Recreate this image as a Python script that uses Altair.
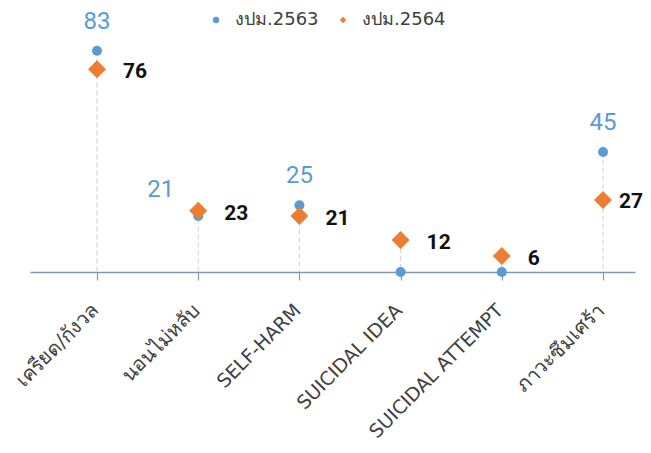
import altair as alt
import pandas as pd

categories = ["เครียด/กังวล", "นอนไม่หลับ", "SELF-HARM", "SUICIDAL IDEA", "SUICIDAL ATTEMPT", "ภาวะซึมเศร้า"]
series_names = ["งปม.2563", "งปม.2564"]
v2563 = [83, 21, 25, 0, 0, 45]
v2564 = [76, 23, 21, 12, 6, 27]
left_label_cats = ["นอนไม่หลับ"]
tight_right_cats = ["ภาวะซึมเศร้า"]

BLUE = "#5b9bd5"
ORANGE = "#ed7d31"
AXIS = "#8497b0"

rows = []
for c, a, b in zip(categories, v2563, v2564):
    rows.append({"cat": c, "series": series_names[0], "value": a})
    rows.append({"cat": c, "series": series_names[1], "value": b})
df = pd.DataFrame(rows)

drop = pd.DataFrame({
    "cat": categories,
    "top": [max(a, b) for a, b in zip(v2563, v2564)],
    "zero": [0] * len(categories),
})

W, H = 605, 240
xenc = alt.X(
    "cat:N", sort=categories,
    scale=alt.Scale(type="point", padding=0.489, align=0.677),
    axis=alt.Axis(
        title=None, grid=False, domainColor=AXIS, domainWidth=1.5,
        tickColor=AXIS, tickSize=8, tickWidth=1.2,
        labelAngle=-45, labelAlign="right", labelBaseline="middle",
        labelFontSize={"condition": {"test": "test(/[\u0e00-\u0e7f]/, datum.label)", "value": 20},
                       "value": 19},
        labelColor="#404040", labelPadding=27, labelOffset=-2, labelLimit=400,
        labelFont="DejaVu Sans",
    ),
)
yscale = alt.Scale(domain=[0, 90], nice=False, zero=True)
yenc = alt.Y("value:Q", scale=yscale, axis=None)

rules = alt.Chart(drop).mark_rule(color="#d0d0d0", strokeDash=[5, 3], strokeWidth=1).encode(
    x=xenc,
    y=alt.Y("top:Q", scale=yscale, axis=None),
    y2="zero:Q",
)

legend = alt.Legend(title=None, orient="none", legendX=177, legendY=-21,
                    direction="horizontal", labelFontSize=18,
                    labelColor="#404040", symbolSize=40, labelOffset=10,
                    columnPadding=15, padding=0, labelFont="DejaVu Sans")

points = alt.Chart(df).mark_point(filled=True, opacity=1).encode(
    x=xenc,
    y=yenc,
    color=alt.Color("series:N", scale=alt.Scale(domain=series_names, range=[BLUE, ORANGE]),
                    legend=legend),
    shape=alt.Shape("series:N", scale=alt.Scale(domain=series_names, range=["circle", "diamond"]),
                    legend=legend),
    size=alt.condition(alt.datum.series == series_names[0], alt.value(100), alt.value(324)),
    order=alt.Order("series:N"),
)

blue_above = alt.Chart(df).transform_filter(
    (alt.datum.series == series_names[0]) & (alt.datum.value > 0)
).transform_filter(
    {"not": alt.FieldOneOfPredicate(field="cat", oneOf=left_label_cats)}
).mark_text(dy=-29, fontSize=24, color=BLUE, font="Roboto").encode(
    x=xenc, y=yenc, text="value:Q"
)

blue_left = alt.Chart(df).transform_filter(
    (alt.datum.series == series_names[0]) & (alt.datum.value > 0)
).transform_filter(
    alt.FieldOneOfPredicate(field="cat", oneOf=left_label_cats)
).mark_text(align="right", dx=-24, dy=-26, fontSize=24, color=BLUE, font="Roboto").encode(
    x=xenc, y=yenc, text="value:Q"
)

black = alt.Chart(df).transform_filter(
    alt.datum.series == series_names[1]
).transform_filter(
    {"not": alt.FieldOneOfPredicate(field="cat", oneOf=tight_right_cats)}
).mark_text(align="left", dx=26, dy=3, fontSize=21, fontWeight="bold", color="#111111",
            font="Roboto").encode(
    x=xenc, y=yenc, text="value:Q"
)

black_tight = alt.Chart(df).transform_filter(
    alt.datum.series == series_names[1]
).transform_filter(
    alt.FieldOneOfPredicate(field="cat", oneOf=tight_right_cats)
).mark_text(align="left", dx=16, dy=2, fontSize=21, fontWeight="bold", color="#111111",
            font="Roboto").encode(
    x=xenc, y=yenc, text="value:Q"
)

chart = alt.layer(rules, points, blue_above, blue_left, black, black_tight).properties(
    width=W, height=H,
    autosize=alt.AutoSizeParams(type="none"),
    padding={"left": 22, "top": 24, "right": 8, "bottom": 171},
).configure(background="white", view=alt.ViewConfig(stroke=None))

chart.save("out.html", embed_options={"renderer": "svg", "actions": False})
